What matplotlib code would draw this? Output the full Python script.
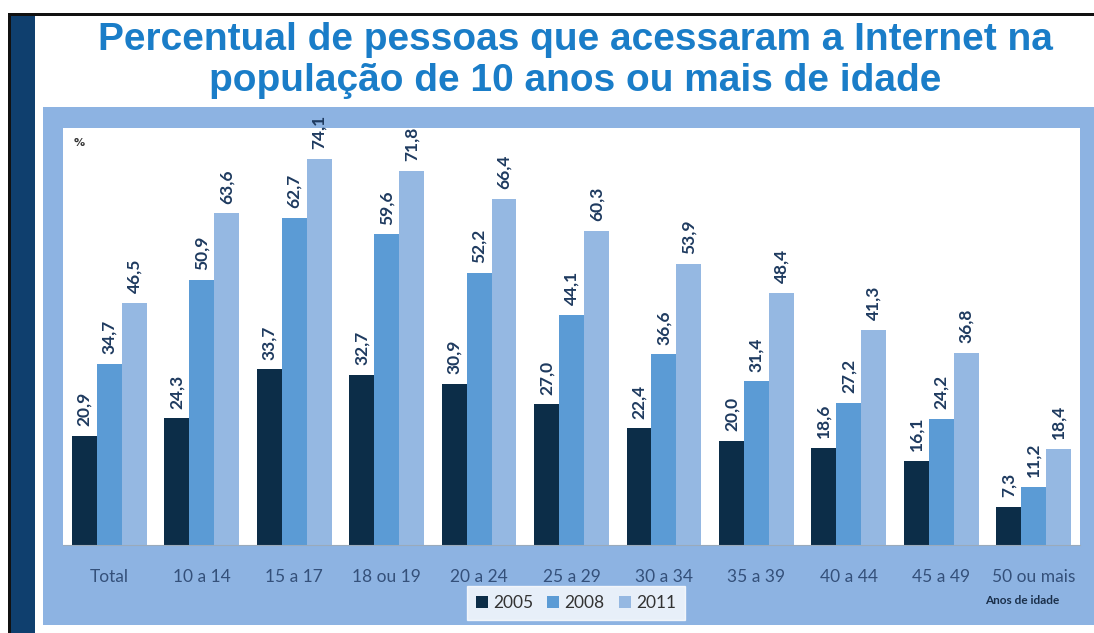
import matplotlib
matplotlib.use("Agg")
import matplotlib.pyplot as plt
import numpy as np
from matplotlib.patches import Rectangle

categories = ["Total", "10 a 14", "15 a 17", "18 ou 19", "20 a 24", "25 a 29",
              "30 a 34", "35 a 39", "40 a 44", "45 a 49", "50 ou mais"]
years = ["2005", "2008", "2011"]
v2005 = [20.9, 24.3, 33.7, 32.7, 30.9, 27.0, 22.4, 20.0, 18.6, 16.1, 7.3]
v2008 = [34.7, 50.9, 62.7, 59.6, 52.2, 44.1, 36.6, 31.4, 27.2, 24.2, 11.2]
v2011 = [46.5, 63.6, 74.1, 71.8, 66.4, 60.3, 53.9, 48.4, 41.3, 36.8, 18.4]
series = [v2005, v2008, v2011]
colors = ["#0c2d48", "#5b9bd5", "#95b8e2"]

W, H = 1094, 633
fig = plt.figure(figsize=(W / 100, H / 100), dpi=100)
fig.patch.set_facecolor("white")

def frect(x0, y0, x1, y1, color, z=-5):
    # pixel coords (top-left origin) -> figure fraction
    fig.patches.append(Rectangle((x0 / W, 1 - y1 / H), (x1 - x0) / W, (y1 - y0) / H,
                                 transform=fig.transFigure, facecolor=color,
                                 edgecolor="none", zorder=z))

# black top line and dark blue side bar
frect(8, 13, W, 16, "#111111")
frect(8, 13, 11, H, "#111111")
frect(11, 16, 35, H, "#0f3f6e")
# light blue panel
frect(43, 107, W, 625, "#8db3e2")

# title
fig.text(575 / W, 1 - 40 / H, "Percentual de pessoas que acessaram a Internet na",
         ha="center", va="center", fontsize=28, fontweight="bold",
         color="#1a7dc8", family="Liberation Sans")
fig.text(575 / W, 1 - 81 / H, "população de 10 anos ou mais de idade",
         ha="center", va="center", fontsize=28, fontweight="bold",
         color="#1a7dc8", family="Liberation Sans")

ax = fig.add_axes([63 / W, 1 - 545 / H, (1080 - 63) / W, (545 - 128) / H])
ax.set_zorder(1)
ax.set_facecolor("white")
x = np.arange(len(categories))
bw = 0.27
for i, (vals, yr, c) in enumerate(zip(series, years, colors)):
    pos = x + (i - 1) * bw
    bars = ax.bar(pos, vals, width=bw, color=c, label=yr, zorder=2)
    for b, v in zip(bars, vals):
        ax.annotate(f"{v:.1f}".replace(".", ","),
                    (b.get_x() + b.get_width() / 2, b.get_height()),
                    xytext=(0, 7), textcoords="offset points",
                    rotation=90, ha="center", va="bottom",
                    fontsize=12.5, fontweight="bold", color="#1e3a5f",
                    family="Lato")

ax.set_xlim(-0.5, len(categories) - 0.5)
ax.set_ylim(0, 80)
ax.set_yticks([])
ax.set_xticks(x)
ax.set_xticklabels(categories, fontsize=12.5, color="#34507a", family="Lato")
ax.tick_params(axis="x", length=0, pad=17)
for s in ["top", "right", "left"]:
    ax.spines[s].set_visible(False)
ax.spines["bottom"].set_color("#9aaabb")
ax.text(0.01, 0.965, "%", transform=ax.transAxes, fontsize=8, fontweight="bold",
        color="#333333", ha="left", va="center")

leg = fig.legend(loc="center", bbox_to_anchor=(576 / W, 1 - 603 / H), ncol=3,
                 frameon=True, fancybox=False,
                 handlelength=0.7, handleheight=0.7, handletextpad=0.3,
                 columnspacing=0.8, borderpad=0.5, prop={"family": "Lato", "size": 12.5})
leg.get_frame().set_facecolor("white")
leg.get_frame().set_edgecolor("white")
for t in leg.get_texts():
    t.set_color("#333333")

fig.text(1022 / W, 1 - 600 / H, "Anos de idade", ha="center", va="center",
         fontsize=8.5, fontweight="bold", color="#1a2f4a", family="Lato")

fig.savefig("out.png", dpi=100, facecolor="white")
